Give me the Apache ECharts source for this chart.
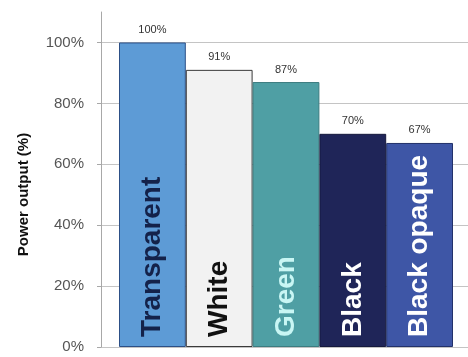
<!DOCTYPE html>
<html><head><meta charset="utf-8">
<script src="https://cdn.jsdelivr.net/npm/echarts@6/dist/echarts.min.js"></script>
<style>html,body{margin:0;padding:0;background:#fff}#c{width:468px;height:357px}</style>
</head><body><div id="c"></div>
<script>
const categories = ['Transparent', 'White', 'Green', 'Black', 'Black opaque'];
const values = [100, 91, 87, 70, 67];
const valueLabels = ['100%', '91%', '87%', '70%', '67%'];
const yTicks = [0, 20, 40, 60, 80, 100];
const barColors = ['#5d9bd6', '#f2f2f2', '#4f9fa4', '#1f2558', '#3e56a6'];
const textColors = ['#14224a', '#111111', '#c9f6f4', '#ffffff', '#ffffff'];
const borderColors = ['#2c4f86', '#3a3a3a', '#3c7c80', '#15193d', '#22316a'];

const font = 'Liberation Sans, Arial, sans-serif';
const chart = echarts.init(document.getElementById('c'));
chart.setOption({
  animation: false,
  grid: [
    {left: 101, right: 0, top: 12, bottom: 10},
    {left: 119, right: 15, top: 12, bottom: 10}
  ],
  xAxis: [
    {gridIndex: 0, type: 'category', data: categories, show: true,
     axisLine: {show: false}, axisTick: {show: false}, axisLabel: {show: false}},
    {gridIndex: 1, type: 'category', data: categories,
     axisLine: {show: false}, axisTick: {show: false}, axisLabel: {show: false}}
  ],
  yAxis: [
    {gridIndex: 0, type: 'value', min: 0, max: 110, interval: 20,
     name: 'Power output (%)', nameLocation: 'middle', nameGap: 70,
     nameTextStyle: {fontFamily: font, fontWeight: 'bold', fontSize: 15, color: '#111', padding: [0, 0, 0, -30]},
     axisLine: {show: true, lineStyle: {color: '#a8a8a8', width: 1}},
     axisTick: {show: true, length: 4, lineStyle: {color: '#a8a8a8'}, customValues: yTicks},
     axisLabel: {fontFamily: font, fontSize: 15, color: '#555', margin: 17,
       formatter: v => v + '%', customValues: yTicks},
     splitLine: {show: true, lineStyle: {color: '#c4c4c4', width: 1}}},
    {gridIndex: 1, type: 'value', min: 0, max: 110, show: false, splitLine: {show: false}}
  ],
  series: [
    {type: 'bar', xAxisIndex: 1, yAxisIndex: 1, barCategoryGap: 0, barGap: '-100%',
     data: values.map((v, i) => ({value: v,
       itemStyle: {color: barColors[i], borderColor: borderColors[i], borderWidth: 1},
       label: {color: textColors[i]}})),
     label: {show: true, position: 'insideBottom', rotate: 90, align: 'left', verticalAlign: 'middle',
       distance: 10, fontFamily: font, fontWeight: 'bold', fontSize: 28,
       formatter: p => categories[p.dataIndex]}},
    {type: 'bar', xAxisIndex: 1, yAxisIndex: 1, barCategoryGap: 0, barGap: '-100%',
     data: values, itemStyle: {color: 'rgba(0,0,0,0)'}, silent: true,
     label: {show: true, position: 'top', distance: 7, fontFamily: font, fontSize: 11, color: '#333',
       formatter: p => valueLabels[p.dataIndex]}}
  ]
});
</script></body></html>
